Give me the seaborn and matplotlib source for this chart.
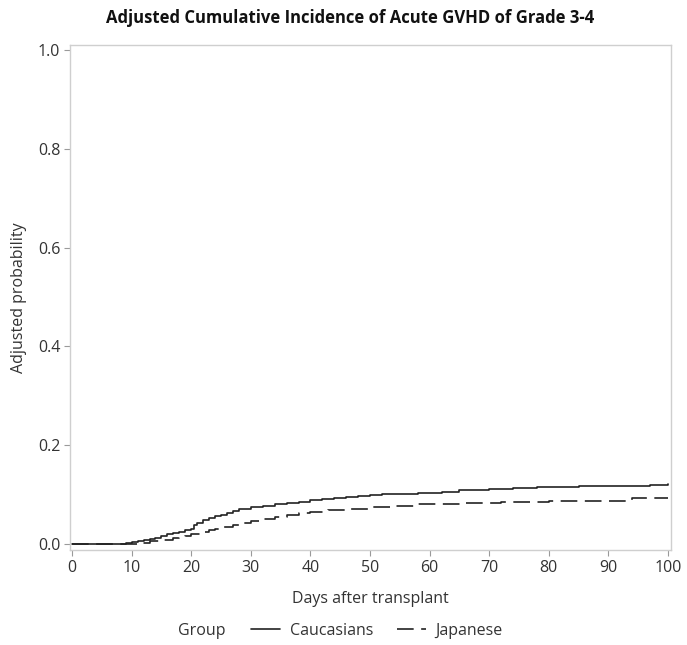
import numpy as np
import pandas as pd
import matplotlib
matplotlib.use("Agg")
import matplotlib.pyplot as plt
import seaborn as sns

# Adjusted cumulative incidence step curves (day, probability)
cau_days = [0, 7, 9, 10, 11, 12, 13, 14, 15, 16, 17, 18, 19, 20, 20.5, 21, 22, 23, 24,
            25, 26, 27, 28, 30, 32, 34, 36, 38, 40, 42, 44, 46, 48, 50, 52, 58, 62, 65,
            70, 74, 78, 85, 90, 97, 100]
cau_prob = [0.0, 0.001, 0.003, 0.005, 0.007, 0.009, 0.011, 0.013, 0.016, 0.020, 0.023,
            0.025, 0.028, 0.031, 0.038, 0.043, 0.048, 0.053, 0.056, 0.059, 0.063, 0.067,
            0.071, 0.074, 0.077, 0.080, 0.083, 0.086, 0.089, 0.091, 0.093, 0.095, 0.097,
            0.099, 0.101, 0.104, 0.106, 0.109, 0.111, 0.113, 0.116, 0.117, 0.118, 0.120,
            0.121]

jpn_days = [0, 9, 11, 13, 15, 17, 18, 19, 20, 22, 23, 24, 25, 27, 28, 30, 32, 34, 36,
            38, 40, 43, 46, 50, 54, 58, 62, 66, 72, 80, 88, 94, 100]
jpn_prob = [0.0, 0.001, 0.003, 0.006, 0.009, 0.012, 0.014, 0.017, 0.021, 0.025, 0.028,
            0.031, 0.034, 0.038, 0.042, 0.046, 0.050, 0.054, 0.058, 0.062, 0.065, 0.068,
            0.071, 0.074, 0.077, 0.080, 0.082, 0.084, 0.086, 0.087, 0.088, 0.093, 0.094]

groups = ["Caucasians", "Japanese"]
title = "Adjusted Cumulative Incidence of Acute GVHD of Grade 3-4"
x_ticks = [0, 10, 20, 30, 40, 50, 60, 70, 80, 90, 100]
y_ticks = [0.0, 0.2, 0.4, 0.6, 0.8, 1.0]

df = pd.concat([
    pd.DataFrame({"day": cau_days, "prob": cau_prob, "Group": groups[0]}),
    pd.DataFrame({"day": jpn_days, "prob": jpn_prob, "Group": groups[1]}),
], ignore_index=True)

sns.set_style("white")
plt.rcParams["font.family"] = ["Open Sans", "DejaVu Sans"]

fig = plt.figure(figsize=(6.87, 6.45), dpi=100)
ax = fig.add_axes([0.1019, 0.1473, 0.8748, 0.7829])

line_color = "#222222"
sns.lineplot(data=df[df.Group == groups[0]], x="day", y="prob", ax=ax,
             color=line_color, lw=1.2, drawstyle="steps-post", label=groups[0],
             estimator=None)
sns.lineplot(data=df[df.Group == groups[1]], x="day", y="prob", ax=ax,
             color=line_color, lw=1.2, drawstyle="steps-post", label=groups[1],
             estimator=None, dashes=False, linestyle=(0, (10, 4.5)))

ax.set_xlim(-0.34, 100.5)
ax.set_ylim(-0.0121, 1.0101)
ax.set_xticks(x_ticks)
ax.set_yticks(y_ticks)
ax.set_yticklabels([f"{v:.1f}" for v in y_ticks])

for s in ax.spines.values():
    s.set_color("#cfcfcf")
    s.set_linewidth(1.0)
ax.tick_params(axis="both", which="major", length=4, width=0.8, color="#9a9a9a",
               labelsize=11.5, labelcolor="#333333", pad=3, direction="out",
               bottom=True, left=True)

ax.set_xlabel("Days after transplant", fontsize=11.5, color="#333333", labelpad=11)
ax.set_ylabel("Adjusted probability", fontsize=11.5, color="#333333", labelpad=8)
fig.suptitle(title, x=0.51, y=0.986, fontsize=12, fontweight="bold", color="#111111")

ax.get_legend().remove()
handles, labels = ax.get_legend_handles_labels()
fig.text(0.259, 0.022, "Group", fontsize=11.5, color="#333333", va="center")
fig.legend(handles, labels, loc="center left", bbox_to_anchor=(0.345, 0.022),
           ncol=2, frameon=False, fontsize=11.5, handlelength=1.8,
           columnspacing=1.5, handletextpad=0.6, labelcolor="#333333")

fig.savefig("out.png", dpi=100)
